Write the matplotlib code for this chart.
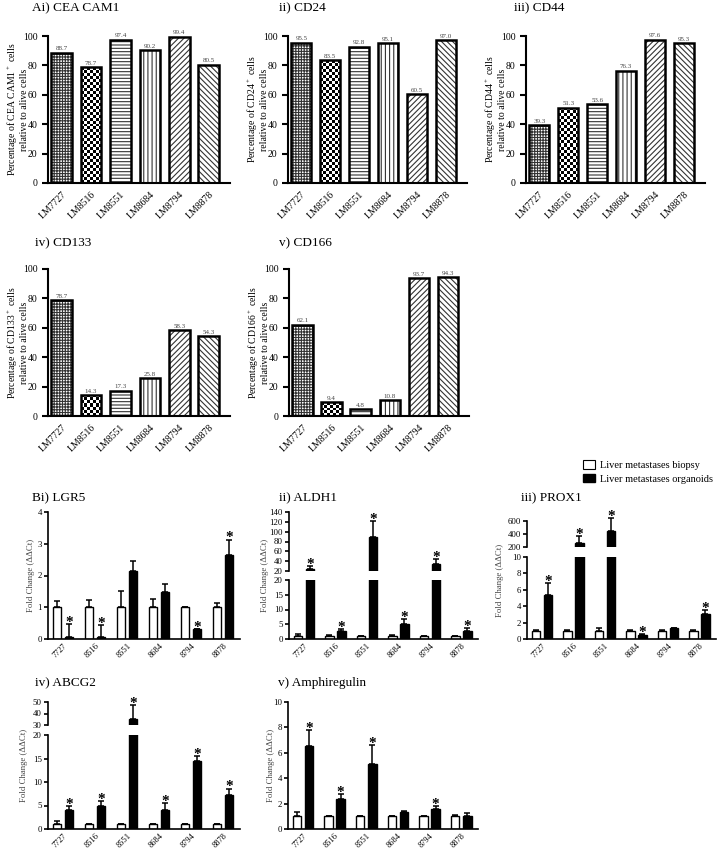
import matplotlib
matplotlib.use("Agg")
import matplotlib.pyplot as plt
import numpy as np
from matplotlib.patches import Patch

plt.rcParams['font.family'] = ['Liberation Serif', 'DejaVu Serif']
plt.rcParams['mathtext.fontset'] = 'custom'
plt.rcParams['mathtext.rm'] = 'Liberation Serif'
plt.rcParams['mathtext.default'] = 'rm'
plt.rcParams['hatch.linewidth'] = 0.8

# ---- panel A data (percentage of positive cells) ----
lines = ['LM7727', 'LM8516', 'LM8551', 'LM8684', 'LM8794', 'LM8878']
cea = [88.7, 78.7, 97.4, 90.2, 99.4, 80.5]
cd24 = [95.5, 83.5, 92.8, 95.1, 60.5, 97.0]
cd44 = [39.3, 51.3, 53.6, 76.3, 97.6, 95.3]
cd133 = [78.7, 14.3, 17.3, 25.8, 58.3, 54.3]
cd166 = [62.1, 9.4, 4.8, 10.8, 93.7, 94.3]

# ---- panel B data (fold change, biopsy vs organoids) ----
samples = ['7727', '8516', '8551', '8684', '8794', '8878']
lgr5_bio = [1, 1, 1, 1, 1, 1]
lgr5_bio_err = [0.2, 0.22, 0.5, 0.25, 0, 0.12]
lgr5_org = [0.06, 0.05, 2.15, 1.48, 0.3, 2.65]
lgr5_org_err = [0.4, 0.4, 0.3, 0.26, 0, 0.48]
lgr5_sig = [1, 1, 0, 0, 1, 1]

aldh1_bio = [1, 1, 1, 1, 1, 1]
aldh1_bio_err = [0.7, 0.35, 0.15, 0.2, 0.1, 0.15]
aldh1_org = [25, 2.8, 90, 5.2, 34, 2.8]
aldh1_org_err = [5, 0.6, 31, 1.5, 11, 0.8]
aldh1_sig = [1, 1, 1, 1, 1, 1]

prox1_bio = [1, 1, 1, 1, 1, 1]
prox1_bio_err = [0.1, 0.05, 0.3, 0.05, 0.05, 0.15]
prox1_org = [5.35, 260, 450, 0.45, 1.35, 3.05]
prox1_org_err = [1.5, 110, 200, 0.15, 0.05, 0.5]
prox1_sig = [1, 1, 1, 1, 0, 1]

abcg2_bio = [1.1, 1, 1, 1, 1, 1]
abcg2_bio_err = [0.5, 0.1, 0.1, 0.15, 0.1, 0.1]
abcg2_org = [4.0, 4.8, 35, 4.1, 14.5, 7.3]
abcg2_org_err = [0.9, 1.1, 12, 1.4, 1.0, 1.3]
abcg2_sig = [1, 1, 1, 1, 1, 1]

areg_bio = [1, 1, 1, 1, 1, 1]
areg_bio_err = [0.33, 0.05, 0.05, 0.05, 0.05, 0.08]
areg_org = [6.57, 2.4, 5.15, 1.3, 1.57, 1.05]
areg_org_err = [1.2, 0.37, 1.45, 0.08, 0.23, 0.18]
areg_sig = [1, 1, 1, 0, 1, 0]

hatches = ['++++++', 'checker', '-----', '||||', '//////', '\\\\\\\\\\\\']

W, H = 718, 848
fig = plt.figure(figsize=(W / 100, H / 100), dpi=100)


def px_axes(l, t, r, b):
    return fig.add_axes([l / W, 1 - b / H, (r - l) / W, (b - t) / H])


def checker(ax, bar, cell=3):
    x0, w, h = bar.get_x(), bar.get_width(), bar.get_height()
    (px0, py0), (px1, py1) = ax.transData.transform([(x0, 0), (x0 + w, h)])
    nx = max(1, int(round((px1 - px0) / cell)))
    ny = max(1, int(round((py1 - py0) / cell)))
    grid = np.indices((ny, nx)).sum(axis=0) % 2
    im = ax.imshow(grid, extent=(x0, x0 + w, 0, h), origin='lower', cmap='gray',
                   vmin=0, vmax=1, interpolation='nearest', aspect='auto', zorder=2)
    im.set_clip_path(bar)


def style_axes(ax, lw=1.5, tl=4):
    for s in ['top', 'right']:
        ax.spines[s].set_visible(False)
    for s in ['left', 'bottom']:
        ax.spines[s].set_linewidth(lw)
    ax.tick_params(direction='out', length=tl, width=lw, colors='black')


def panel_a(box, vals, title, title_xy, ylab):
    ax = px_axes(*box)
    x = np.arange(len(lines))
    xl, yl = (-0.46, 5.72), (0, 100)
    ax.set_xlim(*xl)
    ax.set_ylim(*yl)
    for i, v in enumerate(vals):
        if hatches[i] == 'checker':
            b = ax.bar(x[i], v, 0.7, color='white', lw=0)[0]
            checker(ax, b)
        else:
            ax.bar(x[i], v, 0.7, color='white', edgecolor='#333333', lw=0, hatch=hatches[i])
    ax.bar(x, vals, 0.7, fill=False, edgecolor='black', lw=1.8, zorder=3)
    for xi, v in zip(x, vals):
        ax.annotate(f'{v:.1f}', (xi, v), xytext=(0, 1), textcoords='offset points',
                    ha='center', va='bottom', fontsize=5, color='#444444')
    ax.set_xlim(*xl)
    ax.set_ylim(*yl)
    style_axes(ax)
    ax.set_yticks(np.arange(0, 101, 20))
    ax.set_xticks(x, lines, rotation=45, ha='right', rotation_mode='anchor')
    ax.tick_params(axis='x', length=0, pad=5)
    ax.tick_params(labelsize=7)
    ax.set_ylabel(ylab, fontsize=7, linespacing=1.2)
    ax.yaxis.label.set_va('center')
    ax.yaxis.set_label_coords(-31 / (box[2] - box[0]), 0.5)
    fig.text(title_xy[0] / W, 1 - title_xy[1] / H, title, fontsize=9.5, va='center', ha='left')
    return ax


def ylab_b(x, y):
    fig.text(x / W, 1 - y / H, 'Fold Change (\u0394\u0394Ct)', rotation=90, fontsize=6.3,
             color='#444444', ha='center', va='center')


def bars_b(ax, bio, bio_err, org, org_err, ymin=None):
    x = np.arange(len(samples))
    off, w = 0.19, 0.27
    ax.bar(x - off, bio, w, color='white', edgecolor='black', lw=1.0)
    ax.bar(x + off, org, w, color='black', edgecolor='black', lw=1.0)
    for xs, v, e in [(x - off, bio, bio_err), (x + off, org, org_err)]:
        v, e = np.asarray(v, float), np.asarray(e, float)
        keep = np.ones(len(x), bool) if ymin is None else (v + e > ymin)
        if not keep.any():
            continue
        eb = ax.errorbar(xs[keep], v[keep], yerr=[np.zeros(keep.sum()), e[keep]], fmt='none',
                         ecolor='black', elinewidth=1.1, capsize=2.2, capthick=1.1)
        if ymin is not None:
            for art in eb.lines[1] + eb.lines[2]:
                art.set_clip_on(False)


def stars_b(ax, org, org_err, sig, ymin, ymax):
    x = np.arange(len(samples))
    for xi, v, e, s in zip(x, org, org_err, sig):
        if s and ymin < v + e <= ymax:
            ax.annotate('*', (xi + 0.19, v + e), xytext=(0, -3.5), textcoords='offset points',
                        ha='center', va='bottom', fontsize=11, fontweight='bold',
                        annotation_clip=False)


def finish_b(ax, ylim, yticks, bottom=True):
    ax.set_xlim(-0.47, 5.53)
    ax.set_ylim(*ylim)
    ax.set_yticks(yticks)
    style_axes(ax, lw=1.2, tl=3)
    ax.tick_params(labelsize=6.3, pad=1.5)
    if bottom:
        ax.set_xticks(np.arange(len(samples)), samples, rotation=45, ha='right',
                      rotation_mode='anchor')
        ax.tick_params(axis='x', length=0, pad=2, labelsize=6)
    else:
        ax.spines['bottom'].set_visible(False)
        ax.set_xticks([])


def panel_b(box, bio, bio_err, org, org_err, sig, ylim, yticks):
    ax = px_axes(*box)
    bars_b(ax, bio, bio_err, org, org_err)
    stars_b(ax, org, org_err, sig, *ylim)
    finish_b(ax, ylim, yticks)
    return ax


def panel_b_broken(top_box, bot_box, bio, bio_err, org, org_err, sig,
                   top_lim, top_ticks, bot_lim, bot_ticks):
    axt = px_axes(*top_box)
    axb = px_axes(*bot_box)
    bars_b(axt, bio, bio_err, org, org_err, ymin=top_lim[0])
    bars_b(axb, bio, bio_err, org, org_err)
    stars_b(axt, org, org_err, sig, top_lim[0], 1e9)
    stars_b(axb, org, org_err, sig, -1, bot_lim[1])
    finish_b(axt, top_lim, top_ticks, bottom=False)
    finish_b(axb, bot_lim, bot_ticks)
    return axt, axb


# ---- panel A ----
panel_a((48, 36, 230, 183), cea, 'Ai) CEA CAM1', (32, 8),
        'Percentage of CEA CAM1$^+$ cells\nrelative to alive cells')
panel_a((288, 36, 467, 183), cd24, 'ii) CD24', (279, 8),
        'Percentage of CD24$^+$ cells\nrelative to alive cells')
panel_a((526, 36, 705, 183), cd44, 'iii) CD44', (514, 8),
        'Percentage of CD44$^+$ cells\nrelative to alive cells')
panel_a((48, 269, 230, 416), cd133, 'iv) CD133', (35, 243),
        'Percentage of CD133$^+$ cells\nrelative to alive cells')
panel_a((289, 269, 469, 416), cd166, 'v) CD166', (279, 243),
        'Percentage of CD166$^+$ cells\nrelative to alive cells')

# ---- panel B ----
panel_b((48, 512, 240, 639), lgr5_bio, lgr5_bio_err, lgr5_org, lgr5_org_err, lgr5_sig,
        (0, 4), [0, 1, 2, 3, 4])
fig.text(32 / W, 1 - 498 / H, 'Bi) LGR5', fontsize=9.5, va='center')
ylab_b(31, 575)

panel_b_broken((289, 512, 478, 571), (289, 580, 478, 639), aldh1_bio, aldh1_bio_err,
               aldh1_org, aldh1_org_err, aldh1_sig, (20, 140), np.arange(20, 141, 20),
               (0, 20), [0, 5, 10, 15, 20])
fig.text(279 / W, 1 - 498 / H, 'ii) ALDH1', fontsize=9.5, va='center')
ylab_b(265, 575)

panel_b_broken((527, 521, 716, 547), (527, 557, 716, 639), prox1_bio, prox1_bio_err,
               prox1_org, prox1_org_err, prox1_sig, (200, 600), [200, 400, 600],
               (0, 10), [0, 2, 4, 6, 8, 10])
fig.text(521 / W, 1 - 498 / H, 'iii) PROX1', fontsize=9.5, va='center')
ylab_b(500, 580)

panel_b_broken((48, 702, 240, 725), (48, 735, 240, 829), abcg2_bio, abcg2_bio_err,
               abcg2_org, abcg2_org_err, abcg2_sig, (30, 50), [30, 40, 50],
               (0, 20), [0, 5, 10, 15, 20])
fig.text(35 / W, 1 - 683 / H, 'iv) ABCG2', fontsize=9.5, va='center')
ylab_b(24, 765)

panel_b((288, 702, 478, 829), areg_bio, areg_bio_err, areg_org, areg_org_err, areg_sig,
        (0, 10), [0, 2, 4, 6, 8, 10])
fig.text(278 / W, 1 - 683 / H, 'v) Amphiregulin', fontsize=9.5, va='center')
ylab_b(271, 765)

# legend
fig.legend(handles=[Patch(facecolor='white', edgecolor='black', lw=0.8),
                    Patch(facecolor='black', edgecolor='black')],
           labels=['Liver metastases biopsy', 'Liver metastases organoids'],
           loc='upper left', bbox_to_anchor=(578 / W, 1 - 455 / H), frameon=False,
           fontsize=7.5, handlelength=1.1, handleheight=0.9, borderpad=0,
           labelspacing=0.35, handletextpad=0.5)

fig.savefig('out.png', dpi=100)
